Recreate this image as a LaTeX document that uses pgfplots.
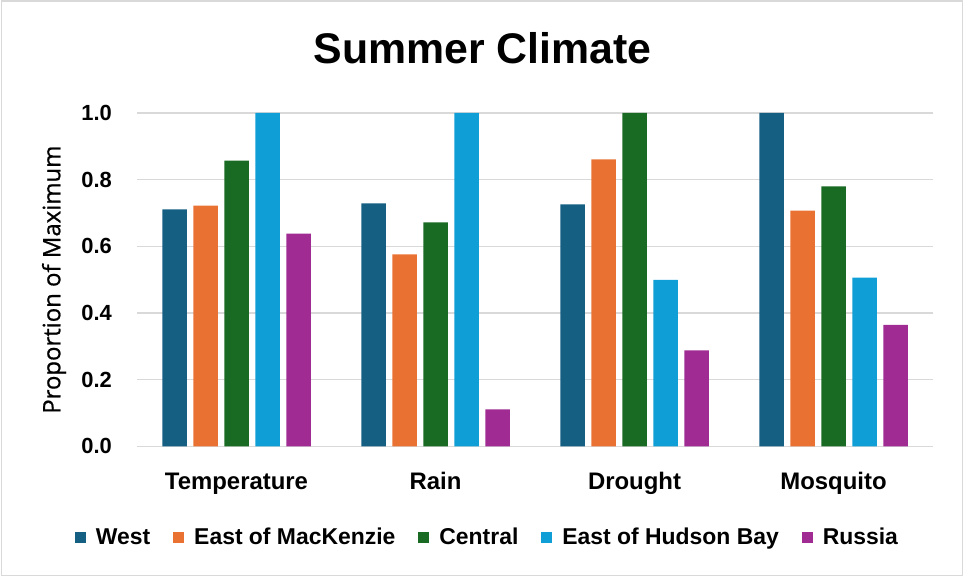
\documentclass[border=0pt]{standalone}
\usepackage{pgfplots}
\pgfplotsset{compat=1.18}
\usepackage{fontspec}
\setmainfont{Liberation Sans}
\newfontfamily\labelfont[FakeBold=0.7]{Open Sans}
\definecolor{cWest}{HTML}{156082}
\definecolor{cEoM}{HTML}{E97132}
\definecolor{cCen}{HTML}{196B24}
\definecolor{cEHB}{HTML}{0F9ED5}
\definecolor{cRus}{HTML}{A02B93}
\definecolor{gridc}{HTML}{D9D9D9}
\pgfplotsset{
  mybar/.style={fill=#1, draw=none,
    legend image code/.code={\path[fill=#1] (0bp,-5.5bp) rectangle (11bp,5.5bp); \path (21bp,0bp);}},
}
\begin{document}
\begin{tikzpicture}[x=1bp,y=1bp]
\useasboundingbox (0,0) rectangle (964,577);
\draw[gridc, line width=1.5bp] (1.5,1.5) rectangle (962.5,576);
\begin{axis}[
  at={(137bp,130.7bp)}, anchor=south west,
  scale only axis, width=796bp, height=333.3bp,
  ybar=6.5bp, bar width=24.5bp,
  xmin=-0.5, xmax=3.5, ymin=0, ymax=1,
  xtick={0,1,2,3},
  xticklabels={Temperature,Rain,Drought,Mosquito},
  ytick={0,0.2,0.4,0.6,0.8,1.0},
  major tick length=0pt,
  axis line style={draw=none},
  ymajorgrids, grid style={gridc, line width=1.5bp},
  /pgf/number format/assume math mode=true,
  yticklabel={\pgfmathprintnumber[fixed,fixed zerofill,precision=1]{\tick}},
  yticklabel style={font=\bfseries\fontsize{22}{26}\selectfont, anchor=east, inner sep=0pt, xshift=-25bp},
  xticklabel style={font=\bfseries\fontsize{24}{28}\selectfont, anchor=base, inner sep=0pt, yshift=-43bp},
  ylabel={Proportion of Maximum},
  ylabel style={font=\labelfont\fontsize{24}{28}\selectfont, at={(axis description cs:0,0.5)}, anchor=center, yshift=83bp},
  legend columns=5,
  legend style={draw=none, fill=none, at={(axis description cs:0.439,-0.273)}, anchor=center,
    font=\bfseries\fontsize{23}{27}\selectfont,
    /tikz/every even column/.append style={column sep=23bp},
    nodes={inner xsep=0bp, inner ysep=2bp}},
]
\addplot[mybar=cWest] coordinates {(0,0.711) (1,0.729) (2,0.726) (3,1.0)};
\addplot[mybar=cEoM] coordinates {(0,0.722) (1,0.576) (2,0.861) (3,0.707)};
\addplot[mybar=cCen] coordinates {(0,0.857) (1,0.672) (2,1.0) (3,0.780)};
\addplot[mybar=cEHB] coordinates {(0,1.0) (1,1.0) (2,0.499) (3,0.506)};
\addplot[mybar=cRus] coordinates {(0,0.638) (1,0.111) (2,0.288) (3,0.364)};
\legend{West,East of MacKenzie,Central,East of Hudson Bay,Russia}
\end{axis}
\node[font=\bfseries\fontsize{43}{48}\selectfont, anchor=center] at (482.5,529) {Summer Climate};
\end{tikzpicture}
\end{document}
